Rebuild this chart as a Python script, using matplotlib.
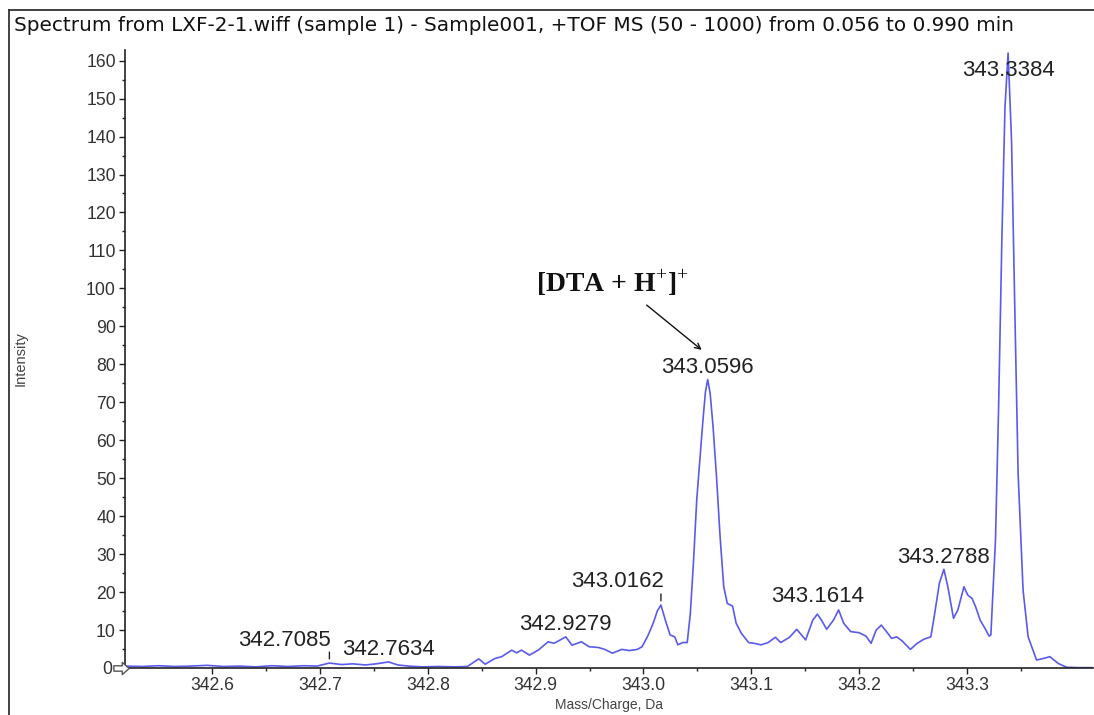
import numpy as np
import matplotlib.pyplot as plt
from matplotlib.path import Path
from matplotlib.transforms import offset_copy
from matplotlib.ticker import MultipleLocator, FixedLocator, FormatStrFormatter

plt.rcParams['font.family'] = ['Liberation Sans', 'DejaVu Sans']
plt.rcParams['mathtext.fontset'] = 'custom'
plt.rcParams['mathtext.rm'] = 'Liberation Serif'

title = ('Spectrum from LXF-2-1.wiff (sample 1) - Sample001, '
         '+TOF MS (50 - 1000) from 0.056 to 0.990 min')

# profile trace: m/z (Da) and intensity
mz = np.array([
    342.519, 342.535, 342.550, 342.565, 342.580, 342.595, 342.610, 342.625,
    342.640, 342.655, 342.670, 342.685, 342.697, 342.7085, 342.720, 342.730,
    342.742, 342.752, 342.7634, 342.772, 342.782, 342.795, 342.810, 342.825,
    342.8365, 342.8472, 342.8530, 342.8621, 342.8685, 342.8777, 342.8822,
    342.8868, 342.8941, 342.9023, 342.9115, 342.9170, 342.9279,
    342.9337, 342.9424, 342.9496, 342.9582, 342.9640, 342.9712, 342.9799,
    342.9870, 342.9943, 342.9987, 343.0041, 343.0093, 343.0128, 343.0162,
    343.0203, 343.0247, 343.0290, 343.0319, 343.0363, 343.0406, 343.0435,
    343.0465, 343.0494, 343.0523, 343.0552, 343.0575, 343.0596,
    343.0619, 343.0646, 343.0678, 343.0711, 343.0745, 343.0778, 343.0827,
    343.0860, 343.0909, 343.0976, 343.1026, 343.1092, 343.1157, 343.1224,
    343.1274, 343.1356, 343.1422, 343.1505, 343.1571, 343.1614,
    343.1652, 343.1700, 343.1763, 343.1811, 343.1858, 343.1922, 343.2001,
    343.2065, 343.2112, 343.2160, 343.2207, 343.2255, 343.2303, 343.2350,
    343.2398, 343.2477, 343.2540, 343.2603, 343.2667, 343.2698, 343.2746,
    343.2788,
    343.2825, 343.2877, 343.2918, 343.2974, 343.3010, 343.3050, 343.3083,
    343.3125, 343.3170, 343.3208, 343.3224, 343.3267, 343.3296, 343.3326,
    343.3355, 343.3384,
    343.3416, 343.3446, 343.3477, 343.3523, 343.3570, 343.3648, 343.3725,
    343.3771, 343.3849, 343.3927, 343.4032, 343.4172])

intensity = np.array([
    0.5, 0.4, 0.6, 0.4, 0.5, 0.7, 0.4, 0.5,
    0.3, 0.6, 0.4, 0.6, 0.5, 1.3, 0.9, 1.1,
    0.8, 1.1, 1.6, 0.8, 0.5, 0.3, 0.4, 0.3,
    0.4, 2.4, 1.0, 2.5, 3.0, 4.7, 4.0,
    4.7, 3.4, 4.7, 6.9, 6.5, 8.2,
    6.0, 6.9, 5.6, 5.4, 4.9, 3.9, 4.9,
    4.6, 4.9, 5.6, 8.5, 12.0, 15.0, 16.6,
    12.6, 8.7, 8.2, 6.1, 6.7, 6.7, 14.4,
    28.4, 44.2, 54.7, 65.3, 72.7, 76.0,
    72.3, 63.5, 50.3, 34.6, 21.4, 17.0, 16.3,
    11.8, 9.1, 6.7, 6.5, 6.1, 6.7, 8.1,
    6.7, 8.1, 10.2, 7.4, 12.6, 14.2,
    12.6, 10.2, 12.6, 15.3, 11.8, 9.6, 9.3,
    8.4, 6.5, 10.0, 11.3, 9.6, 7.8, 8.2,
    7.2, 4.9, 6.5, 7.6, 8.2, 13.5, 22.3,
    26.0,
    21.4, 13.1, 15.3, 21.4, 19.2, 18.3, 16.1,
    12.6, 10.4, 8.4, 8.7, 33.7, 68.8, 112.6,
    147.7, 162.0,
    139.0, 95.0, 51.2, 20.5, 8.2, 2.1, 2.6,
    3.0, 1.2, 0.2, 0.1, 0.1])

# labelled centroids
peak_mz = [342.7085, 342.7634, 342.9279, 343.0162,
           343.0596, 343.1614, 343.2788, 343.3384]

x_ticks = [342.6, 342.7, 342.8, 342.9, 343.0, 343.1, 343.2, 343.3]

# label placement: (dx px, dy px, alignment, draw a tick under the label)
label_style = {
    342.7085: (1, 23, 'right', True),
    342.7634: (0, 12, 'center', False),
    342.9279: (0, 12, 'center', False),
    343.0162: (3, 23, 'right', True),
    343.0596: (0, 12, 'center', False),
    343.1614: (0, 18, 'center', False),
    343.2788: (0, 12, 'center', False),
    343.3384: (0, -17, 'center', False),
}

W, H = 1094, 715
fig = plt.figure(figsize=(W / 100, H / 100), dpi=100)
ax = fig.add_axes([125 / W, 1 - 668 / H, (1093 - 125) / W, (668 - 50) / H])

ax.plot(mz, intensity, color='#5a5aec', lw=1.2)

ax.set_xlim(342.5188, 343.4172)
ax.set_ylim(0, 162.8)

ax.xaxis.set_major_locator(FixedLocator(x_ticks))
ax.xaxis.set_minor_locator(FixedLocator(np.array(x_ticks) + 0.05))
ax.xaxis.set_major_formatter(FormatStrFormatter('%.1f'))
ax.yaxis.set_major_locator(MultipleLocator(10))
ax.yaxis.set_minor_locator(MultipleLocator(5))

for s in ['top', 'right']:
    ax.spines[s].set_visible(False)
for s in ['left', 'bottom']:
    ax.spines[s].set_color('#222222')
    ax.spines[s].set_linewidth(1.2)

ax.tick_params(which='major', length=4, width=1, color='#222222',
               labelsize=12.7, labelcolor='#333333', pad=2.5)
ax.tick_params(which='minor', length=2.5, width=1, color='#222222')

# the zero tick gives way to a hollow baseline arrow
for t, loc in zip(ax.yaxis.get_major_ticks(), ax.yaxis.get_majorticklocs()):
    if loc == 0:
        t.set_pad(5)
        t.tick1line.set_visible(False)
block_arrow = Path([(-1, -0.35), (0.1, -0.35), (0.1, -0.8), (1, 0),
                    (0.1, 0.8), (0.1, 0.35), (-1, 0.35), (-1, -0.35)],
                   closed=True)
ax.plot([0], [0], transform=offset_copy(ax.transAxes, fig, x=-4, y=0,
                                        units='dots'),
        marker=block_arrow, markersize=11, markerfacecolor='white',
        markeredgecolor='#555555', markeredgewidth=1, clip_on=False,
        zorder=5)

ax.set_xlabel('Mass/Charge, Da', fontsize=10, color='#444444', va='top')
ax.xaxis.set_label_coords(0.5, -0.049)
ax.set_ylabel('Intensity', fontsize=10.5, color='#444444')
ax.yaxis.set_label_coords(-0.101, 0.5)

# peak labels
for p in peak_mz:
    i = np.argmin(np.abs(mz - p))
    dx, dy, ha, tick = label_style[p]
    ax.annotate(f'{p:.4f}', xy=(mz[i], intensity[i]), xytext=(dx, dy),
                textcoords='offset pixels', ha=ha, va='center',
                fontsize=16, color='#222222')
    if tick:
        ax.annotate('', xy=(mz[i], intensity[i]), xytext=(0, 11),
                    textcoords='offset pixels',
                    arrowprops=dict(arrowstyle='-', color='#222222', lw=1,
                                    shrinkA=0, shrinkB=3))

# ion annotation with arrow
ax.text(342.9708, 101.4, '[DTA + H$^{+}$]$^{+}$', ha='center', va='center',
        fontsize=20, color='#111111', family='Liberation Serif',
        weight='bold')
ax.annotate('', xy=(343.054, 83.8), xytext=(343.003, 95.6),
            arrowprops=dict(arrowstyle='->', color='#111111', lw=1,
                            shrinkA=0, shrinkB=0))

# window frame and title
fig.add_artist(plt.Line2D([9 / W, 9 / W], [0, 1 - 10 / H], color='#333333',
                          lw=1.3, transform=fig.transFigure))
fig.add_artist(plt.Line2D([9 / W, 1], [1 - 10 / H, 1 - 10 / H],
                          color='#333333', lw=1.3, transform=fig.transFigure))
fig.text(14 / W, 1 - 31 / H, title, ha='left', va='baseline', fontsize=14.4,
         color='#111111', family='DejaVu Sans')

fig.savefig('out.png', dpi=100)
